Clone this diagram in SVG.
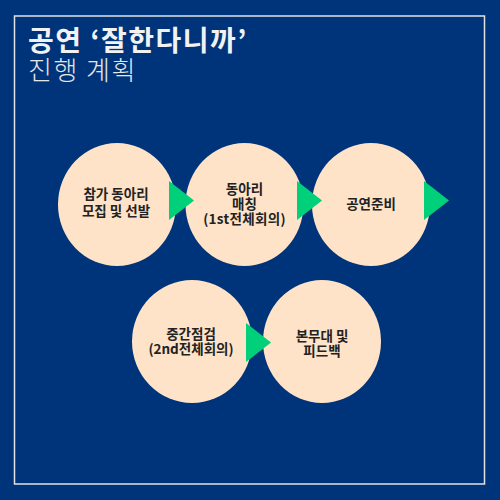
<svg xmlns="http://www.w3.org/2000/svg" width="500" height="500" viewBox="0 0 500 500">
  <defs>
    <style>
      .title { font-family: "Noto Sans CJK KR", "Noto Sans", sans-serif; }
      .node ellipse { fill: #FEE3C8; }
      .node text { font-family: "Noto Sans CJK KR", "Noto Sans", sans-serif; font-size: 13.5px; font-weight: bold; fill: #222222; text-anchor: middle; }
      .arrow { fill: #00D07A; }
    </style>
  </defs>
  <rect x="0" y="0" width="500" height="500" fill="#00347A"/>
  <rect x="14.5" y="16" width="470" height="468" fill="none" stroke="#E2E2E2" stroke-width="1.5"/>
  <text class="title" x="28" y="51" font-weight="bold" fill="#F2F2F2" font-size="28" letter-spacing="1.5">공연 ‘잘한다니까’</text>
  <text class="title" x="28" y="80" fill="#E6E6E6" font-weight="300" font-size="26" letter-spacing="1.5">진행 계획</text>

  <g id="node1" class="node">
    <ellipse cx="117" cy="204.5" rx="59" ry="61.5"/>
    <text x="116" y="199">참가 동아리</text>
    <text x="116" y="215.5">모집 및 선발</text>
  </g>
  <g id="node2" class="node">
    <ellipse cx="244.5" cy="204.5" rx="59" ry="61.5"/>
    <text x="244.5" y="193.5">동아리</text>
    <text x="244.5" y="208.5">매칭</text>
    <text x="244.5" y="223.5" letter-spacing="0.3">(1st전체회의)</text>
  </g>
  <g id="node3" class="node">
    <ellipse cx="371" cy="204.5" rx="59" ry="61.5"/>
    <text x="371" y="208.5">공연준비</text>
  </g>
  <g id="node4" class="node">
    <ellipse cx="192" cy="341.5" rx="60" ry="61.5"/>
    <text x="191" y="339">중간점검</text>
    <text x="191" y="354">(2nd전체회의)</text>
  </g>
  <g id="node5" class="node">
    <ellipse cx="322" cy="341.5" rx="59" ry="61.5"/>
    <text x="322" y="341">본무대 및</text>
    <text x="322" y="356">피드백</text>
  </g>

  <g id="connectors">
    <polygon class="arrow" points="169,181 194,200.5 169,220"/>
    <polygon class="arrow" points="297,181 322,200.5 297,220"/>
    <polygon class="arrow" points="424,181 449,200.5 424,220"/>
    <polygon class="arrow" points="246,323 271,342.5 246,362"/>
  </g>
</svg>
